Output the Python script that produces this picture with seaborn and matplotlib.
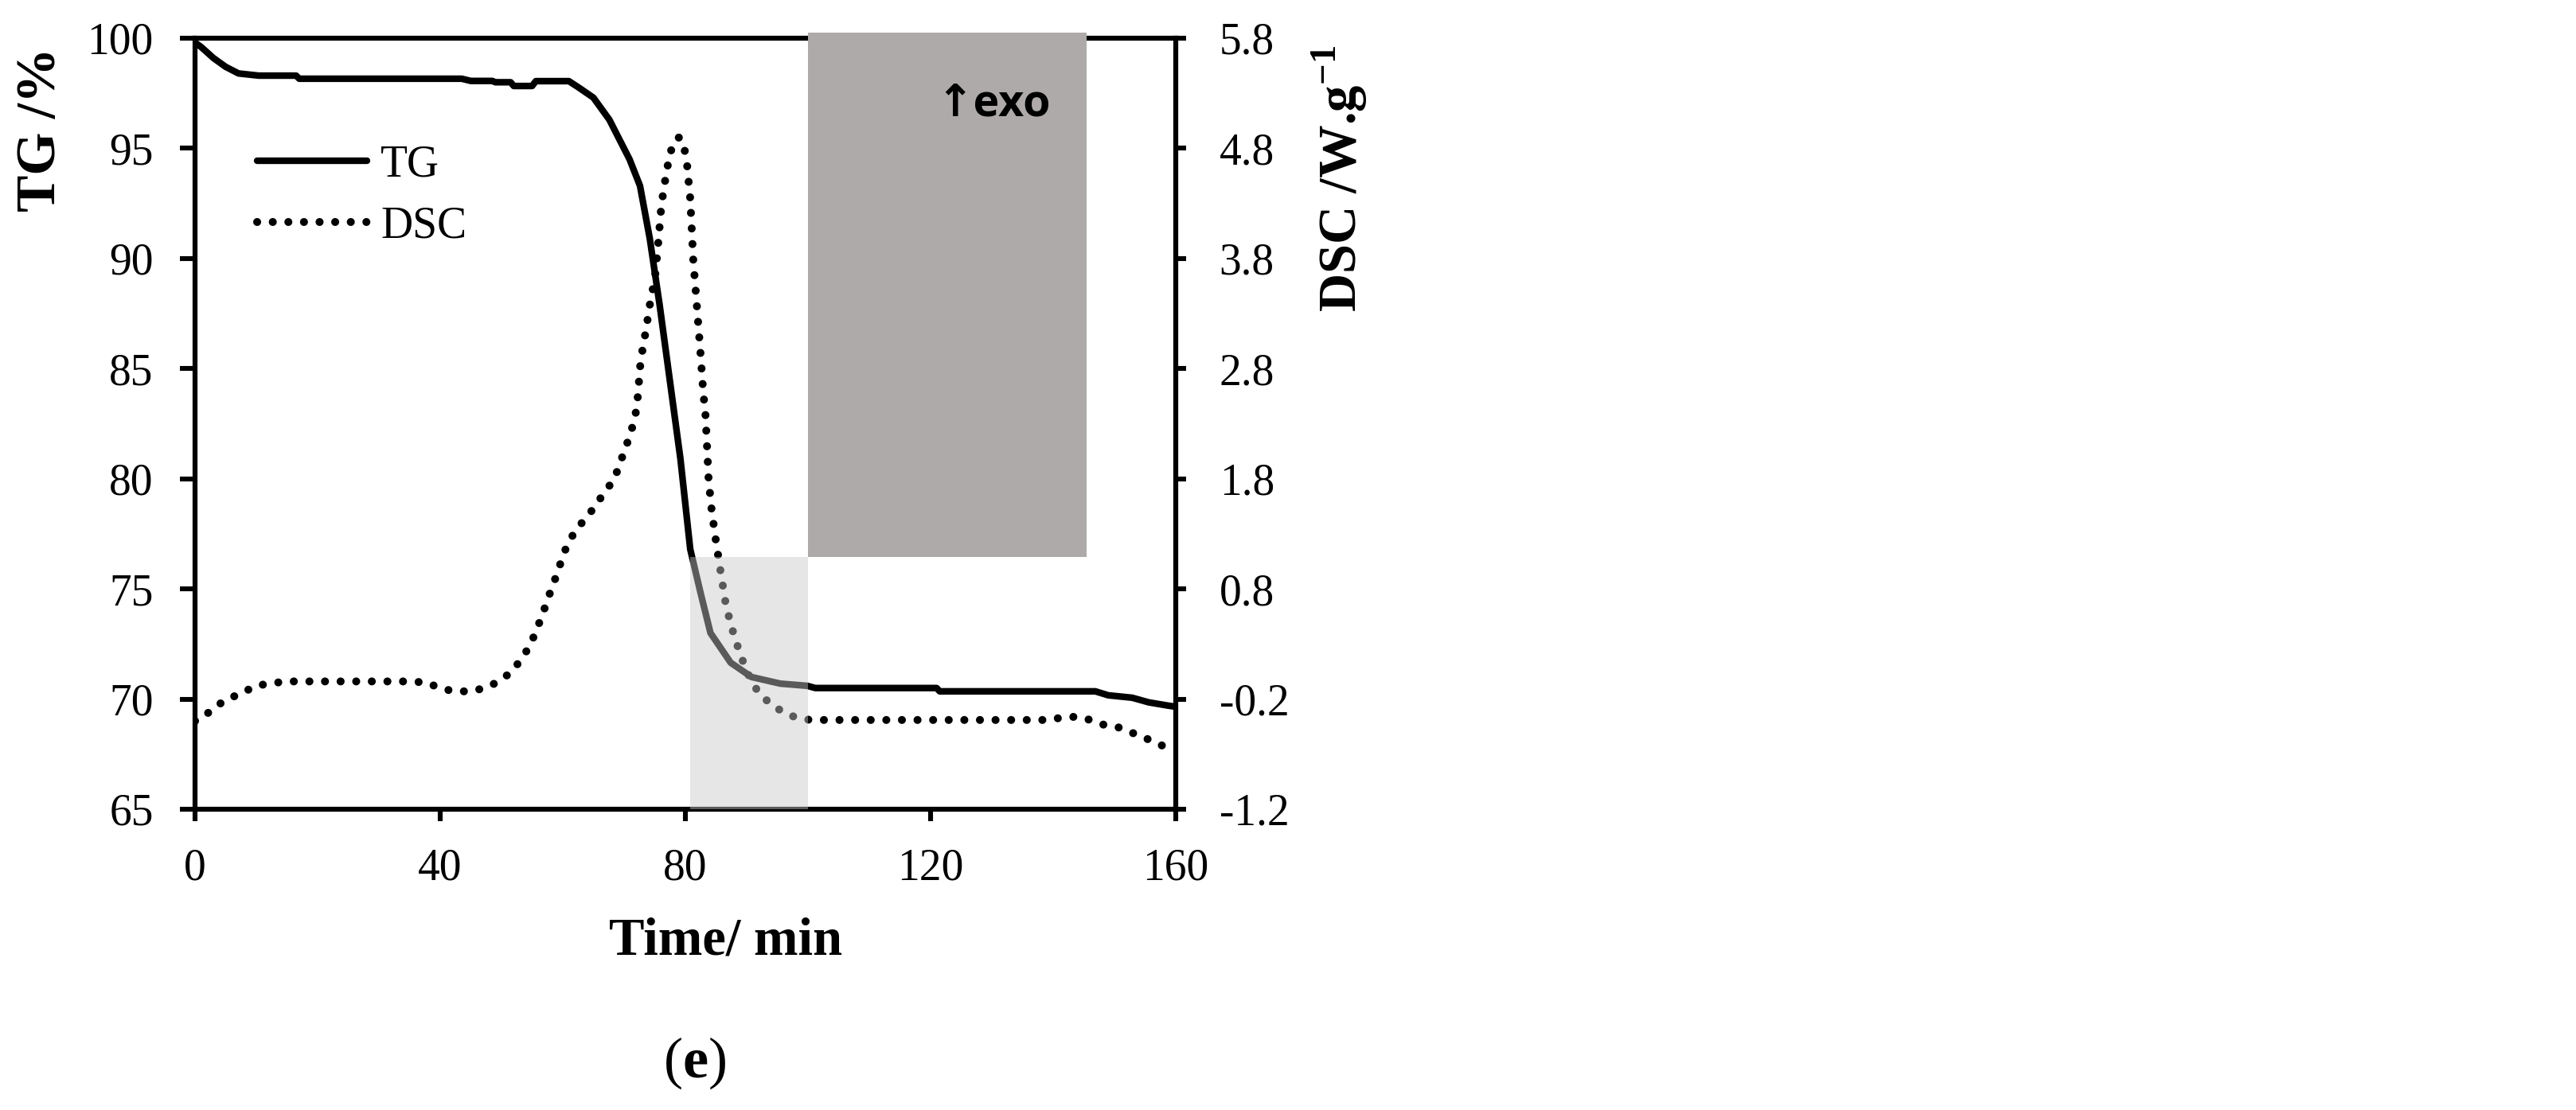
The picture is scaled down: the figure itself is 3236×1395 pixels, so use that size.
import matplotlib
matplotlib.use('Agg')
import matplotlib.pyplot as plt
import seaborn as sns
from matplotlib.patches import Rectangle

# TG curve (time in min, mass in %)
tg_time = [0, 1, 3, 5, 7.1, 10.4, 16.5, 17, 43.5, 45, 48.5, 49, 51.5, 52, 55, 55.6, 61, 62.6,
           65, 67.6, 70.9, 72.6, 74.2, 75.8, 77.5, 79.2, 80.8, 82.5, 84.1, 87.4, 90.8, 95.5,
           99.9, 101.2, 121, 121.5, 146.9, 149, 152.9, 155.6, 158.8, 160]
tg_vals = [99.8, 99.6, 99.1, 98.7, 98.4, 98.3, 98.3, 98.16, 98.16, 98.06, 98.06, 98.0, 98.0, 97.83,
           97.83, 98.05, 98.05, 97.76, 97.3, 96.3, 94.5, 93.3, 90.9, 87.9, 84.4, 80.9, 76.8, 74.8,
           73.0, 71.65, 71.0, 70.7, 70.6, 70.5, 70.5, 70.35, 70.35, 70.17, 70.06, 69.85, 69.7, 69.65]

# DSC curve (time in min, W/g)
dsc_time = [0, 1.2, 3.1, 5.2, 7.6, 9.8, 12.2, 14.7, 20, 25, 30, 35, 37.8, 39.9, 42.3, 44.9, 47.3,
            49.6, 51.7, 53.2, 54.6, 55.6, 56.5, 57.4, 58.2, 59.1, 59.9, 60.8, 62.1, 63.7, 65.3, 66.7,
            68.2, 69.2, 70.0, 70.9, 71.6, 72.1, 72.7, 73.6, 74.4, 75.0, 75.5, 76.1, 76.9, 77.5, 78.2,
            79.0, 79.7, 80.3, 80.8, 81.3, 81.7, 82.1, 82.5, 82.9, 83.3, 83.8, 84.3, 85.0, 85.8, 86.6,
            87.5, 88.7, 90, 91.8, 93.6, 95.7, 98.1, 100.4, 110, 120, 130, 139.0, 141.3, 143.8, 146.1,
            148.6, 150.9, 153.5, 155.7, 158.1, 159]
dsc_vals = [-0.40, -0.37, -0.28, -0.20, -0.15, -0.08, -0.06, -0.04, -0.04, -0.04, -0.04, -0.04, -0.05,
            -0.10, -0.13, -0.13, -0.10, -0.04, 0.05, 0.16, 0.28, 0.41, 0.54, 0.68, 0.81, 0.94, 1.08,
            1.21, 1.33, 1.44, 1.55, 1.67, 1.78, 1.91, 2.05, 2.18, 2.32, 2.45, 2.87, 3.16, 3.45, 3.60,
            3.89, 4.29, 4.58, 4.75, 4.87, 4.90, 4.85, 4.64, 4.34, 3.78, 3.50, 3.21, 2.92, 2.60, 2.37,
            1.79, 1.51, 1.23, 0.94, 0.66, 0.46, 0.25, 0.05, -0.13, -0.23, -0.31, -0.37, -0.39, -0.39,
            -0.39, -0.39, -0.39, -0.37, -0.36, -0.39, -0.44, -0.46, -0.52, -0.57, -0.63, -0.65]

x_ticks = [0, 40, 80, 120, 160]
tg_ticks = [65, 70, 75, 80, 85, 90, 95, 100]
dsc_ticks = [-1.2, -0.2, 0.8, 1.8, 2.8, 3.8, 4.8, 5.8]
dsc_tick_labels = ['-1.2', '-0.2', '0.8', '1.8', '2.8', '3.8', '4.8', '5.8']

sns.set_style('ticks')
plt.rcParams['font.family'] = ['Liberation Serif', 'DejaVu Serif']
plt.rcParams['text.color'] = 'black'
plt.rcParams['axes.labelcolor'] = 'black'
plt.rcParams['axes.unicode_minus'] = False
plt.rcParams['mathtext.fontset'] = 'custom'
plt.rcParams['mathtext.rm'] = 'Liberation Serif'
plt.rcParams['mathtext.bf'] = 'Liberation Serif:bold'

fig = plt.figure(figsize=(16.18, 6.975), dpi=200)
ax = fig.add_axes([0.0757, 0.271, 0.3807, 0.6946])
ax2 = ax.twinx()

sns.lineplot(x=tg_time, y=tg_vals, ax=ax, color='black', linewidth=3.0, label='TG', sort=False)
sns.lineplot(x=dsc_time, y=dsc_vals, ax=ax2, color='black', linewidth=3.6,
             linestyle=(0, (0.01, 1.95)), dash_capstyle='round', label='DSC', sort=False)

for a in (ax, ax2):
    if a.get_legend() is not None:
        a.get_legend().remove()

ax.set_xlim(0, 160)
ax.set_ylim(65, 100)
ax2.set_ylim(-1.2, 5.8)
ax.set_xticks(x_ticks)
ax.set_yticks(tg_ticks)
ax2.set_yticks(dsc_ticks)
ax2.set_yticklabels(dsc_tick_labels)

for a in (ax, ax2):
    for s in a.spines.values():
        s.set_linewidth(2.2)
        s.set_color('black')
ax.tick_params(axis='y', length=6.8, width=2.2, pad=12, labelsize=20, colors='black')
ax.tick_params(axis='x', length=5.4, width=2.2, pad=12, labelsize=20, colors='black')
ax2.tick_params(axis='y', length=4.7, width=2.2, pad=15, labelsize=20, colors='black')

ax.set_xlabel('Time/ min', fontsize=24, fontweight='bold', color='black')
ax.xaxis.set_label_coords(0.541, -0.171)
ax.xaxis.label.set_va('center')
ax.set_ylabel('TG /%', fontsize=25, fontweight='bold', color='black')
ax.yaxis.set_label_coords(-0.157, 0.882)
ax.yaxis.label.set_va('center')
ax2.set_ylabel('DSC /W.g$^{\\mathbf{-1}}$', fontsize=24, fontweight='bold', color='black')
ax2.yaxis.set_label_coords(1.168, 0.818)
ax2.yaxis.label.set_va('center')

# shaded boxes
ax2.add_patch(Rectangle((80.8, 65), 19.2, 11.45, transform=ax.transData,
                        facecolor='#c8c8c8', alpha=0.45, edgecolor='none', zorder=6))
ax2.add_patch(Rectangle((100, 76.45), 45.5, 23.8, transform=ax.transData,
                        facecolor='#aeaaa9', edgecolor='none', zorder=6, clip_on=False))
ax2.text(121, 97.0, '↑exo', transform=ax.transData, fontsize=20, fontweight='bold',
         family=['Open Sans', 'DejaVu Sans'], color='black', ha='left', va='center', zorder=7)

leg = ax.legend([ax.lines[0], ax2.lines[0]], ['TG', 'DSC'], loc='upper left',
                bbox_to_anchor=(0.063, 0.862), frameon=False, fontsize=20, handlelength=2.5,
                handletextpad=0.3, labelspacing=0.45, borderaxespad=0, borderpad=0)
for t in leg.get_texts():
    t.set_color('black')

fig.text(0.2695, 0.0423, '($\\mathbf{e}$)', fontsize=26, color='black', ha='center', va='center')

fig.savefig('out.png', dpi=200, facecolor='white')
